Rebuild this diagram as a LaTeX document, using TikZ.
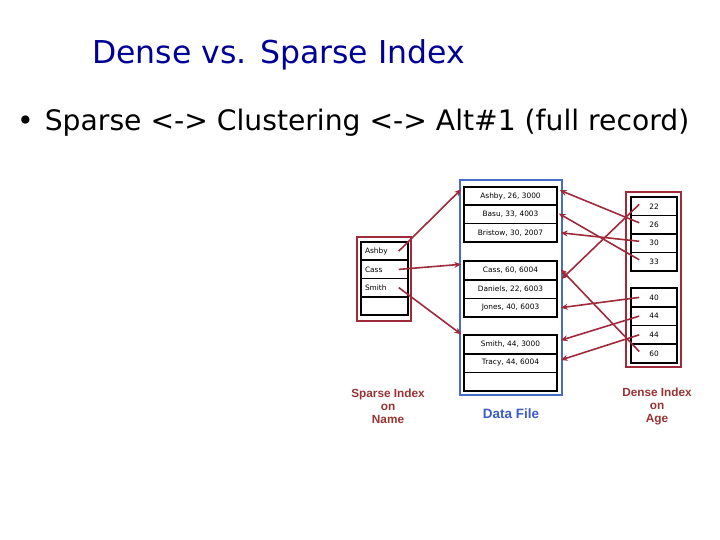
\documentclass[tikz,border=0pt]{standalone}
\usepackage{fontspec}
\setmainfont{DejaVu Sans}
\newfontfamily\labelfont{Liberation Sans}
\usetikzlibrary{arrows.meta}
\definecolor{linered}{RGB}{158,42,58}
\definecolor{labelred}{RGB}{153,51,51}
\definecolor{frameblue}{RGB}{70,110,200}
\definecolor{labelblue}{RGB}{60,90,200}
\definecolor{titleblue}{RGB}{0,0,150}
\tikzset{
  datarow/.style={draw=black, line width=1.5pt, minimum width=93pt, minimum height=18.5pt, inner sep=0pt, font=\fontsize{7.4}{8}\selectfont},
  sparserow/.style={draw=black, line width=1.5pt, text width=39pt, inner xsep=4pt, inner ysep=0pt, minimum height=18.25pt, align=left, font=\fontsize{7.4}{8}\selectfont},
  denserow/.style={draw=black, line width=1.5pt, minimum width=46pt, minimum height=18.6pt, inner sep=0pt, font=\fontsize{7.4}{8}\selectfont},
  redframe/.style={draw=linered, line width=2.2pt, inner sep=0pt},
  blueframe/.style={draw=frameblue, line width=2.2pt, inner sep=0pt},
  ptr/.style={draw=linered, line width=1.6pt, -{Stealth[length=7pt,width=6pt]}},
  caption/.style={font=\labelfont\bfseries\fontsize{11.8}{13}\selectfont, align=center}
}
\begin{document}
\begin{tikzpicture}[x=1pt,y=-1pt]
\useasboundingbox (0,0) rectangle (720,540);
% title and bullet
\node[font=\fontsize{31.5}{34}\selectfont, text=titleblue, anchor=west, inner sep=0pt] (title) at (92,55) {Dense vs. Sparse Index};
\node[font=\fontsize{28.2}{32}\selectfont, anchor=west, inner sep=0pt] (bullet) at (17,123) {•\hspace{11pt}Sparse <-> Clustering <-> Alt\#1 (full record)};
% frames
\node[redframe, minimum width=54pt, minimum height=84pt] (sparseframe) at (384,279) {};
\node[blueframe, minimum width=102pt, minimum height=215pt] (dataframe) at (511,287.5) {};
\node[redframe, minimum width=55pt, minimum height=175pt] (denseframe) at (653.5,279.5) {};
% data file rows
\node[datarow] (A1) at (510.5,196.2) {Ashby, 26, 3000};
\node[datarow] (A2) at (510.5,214.5) {Basu, 33, 4003};
\node[datarow] (A3) at (510.5,232.8) {Bristow, 30, 2007};
\node[datarow] (B1) at (510.5,270.3) {Cass, 60, 6004};
\node[datarow] (B2) at (510.5,289.0) {Daniels, 22, 6003};
\node[datarow] (B3) at (510.5,307.7) {Jones, 40, 6003};
\node[datarow] (C1) at (510.5,344.3) {Smith, 44, 3000};
\node[datarow] (C2) at (510.5,363.0) {Tracy, 44, 6004};
\node[datarow] (C3) at (510.5,381.7) {};
% sparse index rows
\node[sparserow] (S1) at (384.5,251.1) {Ashby};
\node[sparserow] (S2) at (384.5,269.4) {Cass};
\node[sparserow] (S3) at (384.5,287.6) {Smith};
\node[sparserow] (S4) at (384.5,305.9) {};
% dense index rows
\node[denserow] (D1) at (654,206.3) {22};
\node[denserow] (D2) at (654,224.8) {26};
\node[denserow] (D3) at (654,243.3) {30};
\node[denserow] (D4) at (654,261.8) {33};
\node[denserow] (D5) at (654,297.4) {40};
\node[denserow] (D6) at (654,316.1) {44};
\node[denserow] (D7) at (654,334.8) {44};
\node[denserow] (D8) at (654,353.5) {60};
% captions
\node[caption, text=labelred] (sparsecap) at (388,406) {Sparse Index\\on\\Name};
\node[caption, text=labelblue, font=\labelfont\bfseries\fontsize{13.5}{15}\selectfont] (datacap) at (511,414) {Data File};
\node[caption, text=labelred] (densecap) at (657,406) {Dense Index\\on\\Age};
% sparse pointers
\draw[ptr] ([xshift=-10pt]S1.east) -- ([xshift=-2pt,yshift=7pt]A1.west);
\draw[ptr] ([xshift=-10pt]S2.east) -- ([xshift=-2pt,yshift=6pt]B1.west);
\draw[ptr] ([xshift=-10pt]S3.east) -- ([xshift=-2pt,yshift=10pt]C1.west);
% dense pointers
\draw[ptr] ([xshift=9pt,yshift=2pt]D1.west) -- ([xshift=4pt,yshift=10pt]B2.east);
\draw[ptr] ([xshift=9pt,yshift=2pt]D2.west) -- ([xshift=2pt,yshift=6pt]A1.east);
\draw[ptr] ([xshift=9pt,yshift=2pt]D3.west) -- ([xshift=3pt]A3.east);
\draw[ptr] ([xshift=9pt,yshift=2pt]D4.west) -- ([xshift=1pt,yshift=1pt]A2.east);
\draw[ptr] ([xshift=9pt]D5.west) -- ([xshift=3pt]B3.east);
\draw[ptr] ([xshift=9pt]D6.west) -- ([xshift=3pt,yshift=4pt]C1.east);
\draw[ptr] ([xshift=9pt]D7.west) -- ([xshift=3pt,yshift=3pt]C2.east);
\draw[ptr] ([xshift=9pt,yshift=2pt]D8.west) -- ([xshift=3pt,yshift=1pt]B1.east);
\end{tikzpicture}
\end{document}
